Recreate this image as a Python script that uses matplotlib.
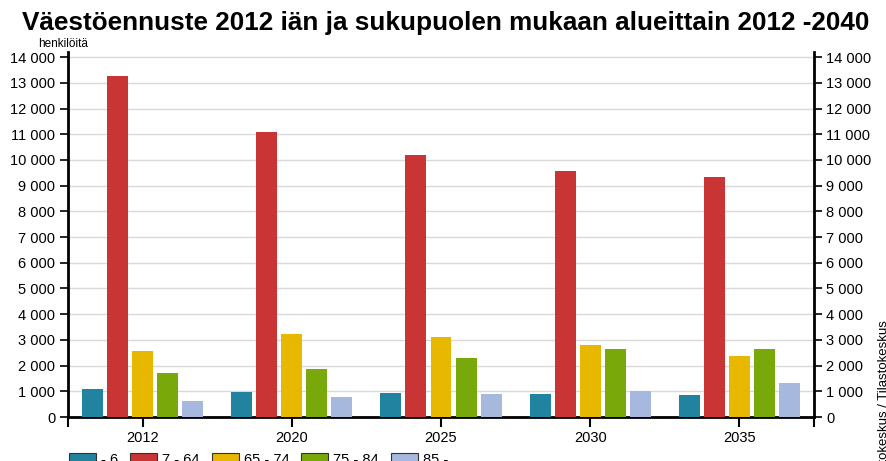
import matplotlib
matplotlib.use("Agg")
import matplotlib.pyplot as plt
import numpy as np
from matplotlib.ticker import FuncFormatter

plt.rcParams['font.family'] = ['Liberation Sans', 'DejaVu Sans']

years = ['2012', '2020', '2025', '2030', '2035']
series_labels = ['- 6', '7 - 64', '65 - 74', '75 - 84', '85 -']
age_0_6 = [1080, 980, 950, 900, 870]
age_7_64 = [13260, 11080, 10190, 9570, 9320]
age_65_74 = [2580, 3240, 3100, 2820, 2380]
age_75_84 = [1720, 1870, 2300, 2660, 2640]
age_85 = [620, 790, 900, 1010, 1330]
series = [age_0_6, age_7_64, age_65_74, age_75_84, age_85]
colors = ['#21839f', '#c93434', '#e8b800', '#78a80a', '#a7b8de']

fig = plt.figure(figsize=(8.87, 4.61), dpi=100)
ax = fig.add_axes([68/887, 1-417/461, (814-68)/887, (417-52)/461])

x = np.arange(len(years)) + 0.5
pitch = 0.168
width = 0.14
handles = []
for i, (vals, c, lab) in enumerate(zip(series, colors, series_labels)):
    b = ax.bar(x + (i - 2) * pitch, vals, width=width, color=c, label=lab, zorder=3)
    handles.append(b)

ax.set_xlim(0, 5)
ax.set_ylim(0, 14200)
ax.set_yticks(np.arange(0, 14001, 1000))
fmt = FuncFormatter(lambda v, p: f"{int(v):,}".replace(',', ' '))
ax.yaxis.set_major_formatter(fmt)
ax.set_xticks(x)
ax.set_xticklabels(years)
ax.set_xticks([0, 5], minor=True)
ax.tick_params(axis='x', which='both', direction='out', length=7, width=1.5, labelsize=10.5, pad=3, color='black')
ax.tick_params(axis='y', direction='out', length=6, width=1.2, labelsize=10.5, left=True, right=True,
               labelleft=True, labelright=True, pad=3)
ax.grid(axis='y', color='#d9d9d9', linewidth=1, zorder=0)
for s in ['left', 'right', 'bottom']:
    ax.spines[s].set_linewidth(2)
    ax.spines[s].set_color('black')
ax.spines['top'].set_visible(False)

fig.text(0.502, 1-23/461, 'Väestöennuste 2012 iän ja sukupuolen mukaan alueittain 2012 -2040',
         ha='center', va='center', fontsize=18.8, fontweight='bold')
fig.text(38/887, 1-44/461, 'henkilöitä', ha='left', va='center', fontsize=8.5)
fig.text(884/887, 1-320/461, 'Tilastokeskus / Tilastokeskus', rotation=90, ha='center', va='top', fontsize=9.5)

leg = fig.legend(handles=handles, labels=series_labels, loc='upper left',
                 bbox_to_anchor=(63/887, 1-447/461), ncol=5, frameon=False,
                 fontsize=10.5, handlelength=1.85, handleheight=1.0, handletextpad=0.35,
                 columnspacing=0.82, borderaxespad=0)
for h in leg.legend_handles:
    h.set_edgecolor('#333333')
    h.set_linewidth(0.8)

fig.savefig('out.png', dpi=100)
